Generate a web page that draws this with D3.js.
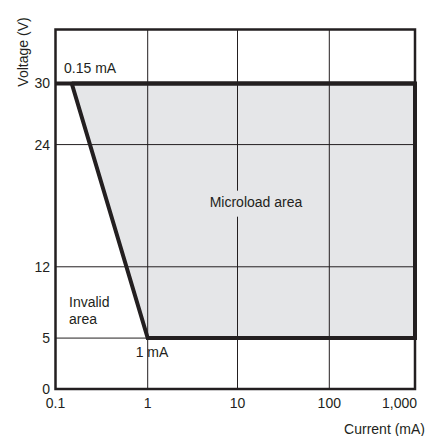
<!DOCTYPE html>
<html><head><meta charset="utf-8">
<script src="https://cdn.jsdelivr.net/npm/d3@7"></script>
<style>body{margin:0;background:#fff}svg{display:block}text{font-family:"Liberation Sans",Arial,sans-serif;fill:#231f20}</style>
</head><body>
<script>
const xTicks = [0.1, 1, 10, 100, 1000];
const xTickLabels = ["0.1", "1", "10", "100", "1,000"];
const yTicks = [0, 5, 12, 24, 30];
const yMax = 35.3;
// microload area boundary (current mA, voltage V)
const areaCurrent = [0.15, 1000, 1000, 1];
const areaVoltage = [30, 30, 5, 5];
const limitVoltageMax = 30, limitVoltageMin = 5;
const annotations = [
  {text: "0.15 mA", x: 0.105, y: 31.1},
  {text: "1 mA", x: 0.88, y: 3.2},
  {text: "Microload area", x: 10, y: 18}
];

const W = 425, H = 436;
const FS = 14;
const svg = d3.select("body").append("svg").attr("width", W).attr("height", H);
const x = d3.scaleLog().domain(xTicks).range([55.5, 147.7, 237.5, 329.3, 415]);
const y = d3.scaleLinear().domain([0, yMax]).range([389, 29.5]);
const dark = "#231f20";

// fill
const pts = areaCurrent.map((c, i) => [x(c), y(areaVoltage[i])]);
svg.append("polygon").attr("points", pts.map(p => p.join(",")).join(" ")).attr("fill", "#e5e6e8");

// grid
svg.append("g").selectAll("line").data(xTicks.slice(1, -1)).join("line")
  .attr("x1", d => x(d)).attr("x2", d => x(d)).attr("y1", y(yMax)).attr("y2", y(0))
  .attr("stroke", dark).attr("stroke-width", 1);
svg.append("g").selectAll("line").data(yTicks.slice(1)).join("line")
  .attr("x1", x(0.1)).attr("x2", x(1000)).attr("y1", d => y(d)).attr("y2", d => y(d))
  .attr("stroke", dark).attr("stroke-width", 1);

// label background for microload text
const ml = annotations[2];
svg.append("rect").attr("x", x(ml.x) - 30).attr("y", y(ml.y) - 15).attr("width", 60).attr("height", 26).attr("fill", "#e5e6e8");

// frame
svg.append("rect").attr("x", x(0.1)).attr("y", y(yMax)).attr("width", x(1000) - x(0.1)).attr("height", y(0) - y(yMax))
  .attr("fill", "none").attr("stroke", dark).attr("stroke-width", 2.5);

// thick boundary
svg.append("path").attr("d", d3.line()([[x(0.1), y(limitVoltageMax)], [x(1000), y(limitVoltageMax)]]))
  .attr("stroke", dark).attr("stroke-width", 4).attr("fill", "none");
svg.append("path").attr("d", d3.line()(pts.concat([pts[0]])))
  .attr("stroke", dark).attr("stroke-width", 4).attr("fill", "none").attr("stroke-linejoin", "miter");

// axis labels
svg.append("g").selectAll("text").data(yTicks).join("text")
  .attr("x", 50).attr("y", d => y(d) + 5).attr("text-anchor", "end").attr("font-size", FS).text(d => d);
svg.append("g").selectAll("text").data(xTicks).join("text")
  .attr("x", (d, i) => i === xTicks.length - 1 ? 417 : x(d)).attr("y", 408)
  .attr("text-anchor", (d, i) => i === xTicks.length - 1 ? "end" : "middle")
  .attr("font-size", FS).text((d, i) => xTickLabels[i]);

svg.append("text").attr("transform", "translate(28,52) rotate(-90)").attr("text-anchor", "middle")
  .attr("font-size", FS).text("Voltage (V)");
svg.append("text").attr("x", 425).attr("y", 434).attr("text-anchor", "end").attr("font-size", FS).text("Current (mA)");

// annotations
svg.append("text").attr("x", 64).attr("y", 73).attr("font-size", FS).text(annotations[0].text);
svg.append("text").attr("x", 152).attr("y", 357).attr("text-anchor", "middle").attr("font-size", FS).text(annotations[1].text);
svg.append("text").attr("x", 256).attr("y", 207).attr("text-anchor", "middle").attr("font-size", FS).text(ml.text);
svg.append("text").attr("x", 69).attr("y", 307).attr("font-size", FS).text("Invalid");
svg.append("text").attr("x", 69).attr("y", 324).attr("font-size", FS).text("area");
</script>
</body></html>
